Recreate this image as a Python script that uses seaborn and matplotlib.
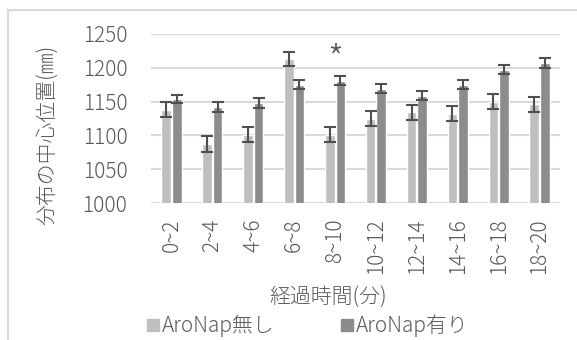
import matplotlib
matplotlib.use("Agg")
import matplotlib.pyplot as plt
import matplotlib.patches as mpatches
from matplotlib.transforms import IdentityTransform
import pandas as pd
import seaborn as sns

periods = ["0~2", "2~4", "4~6", "6~8", "8~10", "10~12", "12~14", "14~16", "16~18", "18~20"]
without_mean = [1138, 1087, 1101, 1213, 1101, 1125, 1134, 1132, 1150, 1146]
without_err = [11, 11.5, 11, 10.5, 11, 11, 11, 11, 11, 11]
with_mean = [1154, 1142, 1148, 1175, 1181, 1169, 1159, 1175, 1197, 1207]
with_err = [6.5, 7, 7, 6.5, 6.5, 7, 6.5, 7, 6.5, 7]
groups = ["AroNap無し", "AroNap有り"]
colors = {"AroNap無し": "#bfbfbf", "AroNap有り": "#8c8c8c"}

TEXT = "#595959"
GRID = "#d9d9d9"


def main():
    df = pd.DataFrame({
        "period": periods * 2,
        "value": without_mean + with_mean,
        "group": [groups[0]] * len(periods) + [groups[1]] * len(periods),
    })
    errs = [without_err, with_err]

    sns.set_theme(style="white")
    plt.rcParams["font.family"] = ["Noto Sans CJK JP", "DejaVu Sans"]
    plt.rcParams["font.weight"] = "light"

    fig = plt.figure(figsize=(5.77, 3.40), dpi=100)
    ax = fig.add_axes([151 / 577, 1 - 203 / 340, (560 - 151) / 577, (203 - 34) / 340])

    sns.barplot(
        data=df, x="period", y="value", hue="group", palette=colors,
        width=0.52, gap=0.1, errorbar=None, legend=False, ax=ax, zorder=2,
    )

    for cont, err in zip(ax.containers, errs):
        xs = [b.get_x() + b.get_width() / 2 for b in cont]
        ys = [b.get_height() for b in cont]
        ax.errorbar(xs, ys, yerr=err, fmt="none", ecolor="#505050",
                    elinewidth=1.5, capsize=4, capthick=1.5, zorder=3)

    ax.set_ylim(1000, 1250)
    ax.set_xlim(-0.5, len(periods) - 0.5)
    ax.set_yticks(range(1000, 1251, 50))
    ax.yaxis.grid(True, color=GRID, lw=1.5, zorder=0)
    ax.set_axisbelow(True)
    sns.despine(ax=ax, left=True, bottom=True, top=True, right=True)
    ax.tick_params(axis="both", length=0, colors=TEXT, labelsize=15)
    ax.tick_params(axis="y", pad=17)
    ax.tick_params(axis="x", pad=11, labelrotation=90)
    ax.set_xlabel("")
    ax.set_ylabel("")

    ax.text(4, 1210, "*", ha="center", va="center", fontsize=26, color=TEXT)

    fig.text(48 / 577, 1 - 135 / 340, "分布の中心位置(㎜)", rotation=90,
             ha="center", va="center", fontsize=15, color=TEXT)
    fig.text(328 / 577, 1 - 298 / 340, "経過時間(分)", ha="center", va="center",
             fontsize=15, color=TEXT)

    handles = [mpatches.Patch(color=colors[g], label=g) for g in groups]
    fig.legend(handles=handles, loc="center", bbox_to_anchor=(308 / 577, 1 - 326 / 340),
               ncol=2, frameon=False, fontsize=15, handlelength=0.55, handleheight=0.55,
               handletextpad=0.15, columnspacing=3.2, labelcolor=TEXT)

    # the original cuts the long period labels off about 58px below their top
    fig.canvas.draw()
    r = fig.canvas.get_renderer()
    boxes = [lab.get_window_extent(r) for lab in ax.get_xticklabels()]
    top = max(b.y1 for b in boxes)
    low = min(b.y0 for b in boxes)
    cut = top - 58
    if low < cut:
        x0 = min(b.x0 for b in boxes) - 2
        x1 = max(b.x1 for b in boxes) + 2
        fig.add_artist(mpatches.Rectangle(
            (x0, low - 1), x1 - x0, cut - low + 1, transform=IdentityTransform(),
            facecolor="white", edgecolor="none", zorder=5))

    fig.add_artist(mpatches.Rectangle(
        (8 / 577, -0.1), 1.2, 1 - 10 / 340 + 0.1, transform=fig.transFigure,
        fill=False, edgecolor=GRID, lw=1.5, zorder=6))

    fig.savefig("out.png", dpi=100)


if __name__ == "__main__":
    main()
